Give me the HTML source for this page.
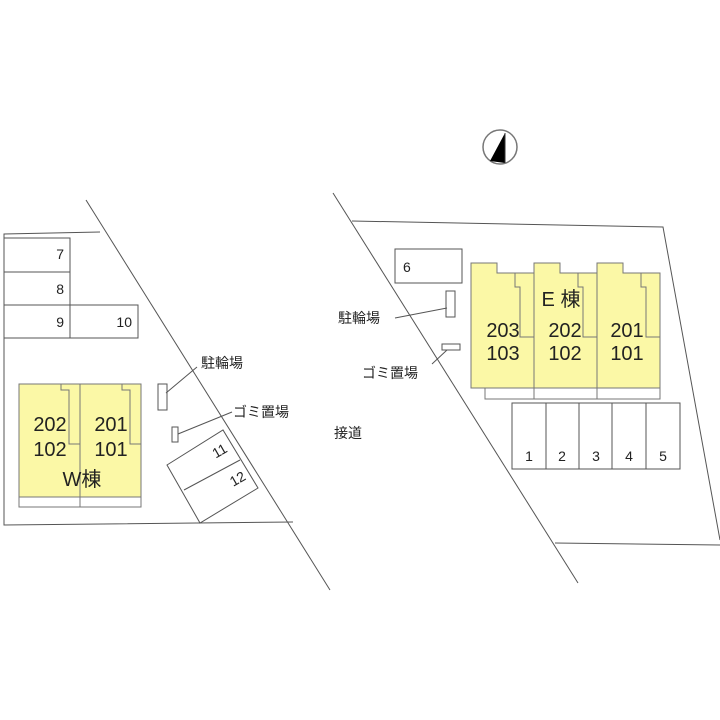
<!DOCTYPE html>
<html><head><meta charset="utf-8"><style>
html,body{margin:0;padding:0;background:#fff}
svg{display:block}
text{font-family:"Liberation Sans","Noto Sans CJK JP",sans-serif;fill:#222}
</style></head><body>
<svg width="720" height="720" viewBox="0 0 720 720" xmlns="http://www.w3.org/2000/svg">
<g fill="none" stroke="#555" stroke-width="1">
<!-- west outline -->
<polyline points="100,232 4,234 4,525 293,522"/>
<line x1="86" y1="200" x2="330" y2="590"/>
<!-- parking 7-10 -->
<rect x="4" y="238" width="66" height="34"/>
<rect x="4" y="272" width="66" height="33"/>
<rect x="4" y="305" width="134" height="33"/>
<line x1="70" y1="305" x2="70" y2="338"/>
<!-- bike/garbage west -->
<rect x="158" y="384" width="9" height="26"/>
<line x1="166" y1="393" x2="197" y2="367"/>
<rect x="172" y="427" width="6" height="15"/>
<line x1="178" y1="434" x2="232" y2="412"/>
<!-- 11/12 -->
<polygon points="167,465 223,430 258,488 200,523"/>
<line x1="184" y1="490" x2="240" y2="460"/>
<!-- east outline -->
<polyline points="352,221 663,227 720,540"/>
<polyline points="555,543 720,545"/>
<line x1="333" y1="193" x2="578" y2="583"/>
<rect x="395" y="249" width="67" height="34"/>
<rect x="446" y="291" width="9" height="26"/>
<line x1="447" y1="308" x2="395" y2="318"/>
<rect x="442" y="344" width="18" height="6"/>
<line x1="447" y1="350" x2="432" y2="364"/>
<!-- parking 1-5 -->
<rect x="512" y="403" width="168" height="66"/>
<line x1="546" y1="403" x2="546" y2="469"/>
<line x1="579" y1="403" x2="579" y2="469"/>
<line x1="612" y1="403" x2="612" y2="469"/>
<line x1="646" y1="403" x2="646" y2="469"/>
</g>
<!-- W building -->
<rect x="19" y="384" width="122" height="113" fill="#fbf8a6" stroke="#777"/>
<rect x="19" y="497" width="122" height="10" fill="#fff" stroke="#777"/>
<g fill="none" stroke="#777">
<line x1="80" y1="384" x2="80" y2="507"/>
<polyline points="61,384 61,390 69,390 69,444 80,444"/>
<polyline points="122,384 122,390 130,390 130,444 141,444"/>
</g>
<g font-size="20" text-anchor="middle">
<text x="50" y="431">202</text><text x="50" y="456">102</text>
<text x="111" y="431">201</text><text x="111" y="456">101</text>
<text x="82" y="486">W棟</text>
</g>
<!-- E building -->
<polygon points="471,263 497,263 497,273 534,273 534,263 560,263 560,273 597,273 597,263 623,263 623,273 660,273 660,388 471,388" fill="#fbf8a6" stroke="#777"/>
<rect x="485" y="388" width="175" height="11" fill="#fff" stroke="#777"/>
<g fill="none" stroke="#777">
<line x1="534" y1="263" x2="534" y2="399"/>
<line x1="597" y1="263" x2="597" y2="399"/>
<polyline points="515,273 515,287 520,287 520,337 534,337"/>
<polyline points="578,273 578,287 583,287 583,337 597,337"/>
<polyline points="641,273 641,287 646,287 646,337 660,337"/>
</g>
<g font-size="20" text-anchor="middle">
<text x="503" y="337">203</text><text x="503" y="360">103</text>
<text x="565" y="337">202</text><text x="565" y="360">102</text>
<text x="627" y="337">201</text><text x="627" y="360">101</text>
<text x="561" y="306">E 棟</text>
</g>
<g font-size="14">
<text x="64" y="259" text-anchor="end">7</text>
<text x="64" y="294" text-anchor="end">8</text>
<text x="64" y="327" text-anchor="end">9</text>
<text x="132" y="327" text-anchor="end">10</text>
<text x="403" y="272">6</text>
<text x="529" y="461" text-anchor="middle">1</text>
<text x="562" y="461" text-anchor="middle">2</text>
<text x="596" y="461" text-anchor="middle">3</text>
<text x="629" y="461" text-anchor="middle">4</text>
<text x="663" y="461" text-anchor="middle">5</text>
<text x="222" y="455" transform="rotate(-30 222 455)" text-anchor="middle" dy="0">11</text>
<text x="240" y="483" transform="rotate(-30 240 483)" text-anchor="middle">12</text>
<text x="201" y="368">駐輪場</text>
<text x="233" y="417">ゴミ置場</text>
<text x="338" y="323">駐輪場</text>
<text x="362" y="378">ゴミ置場</text>
<text x="334" y="438">接道</text>
</g>
<!-- compass -->
<circle cx="500" cy="147" r="17" fill="none" stroke="#777" stroke-width="1.5"/>
<polygon points="505,133 490,161 505,163" fill="#000"/>
<line x1="505" y1="133" x2="505" y2="163" stroke="#333"/>
</svg>
</body></html>
